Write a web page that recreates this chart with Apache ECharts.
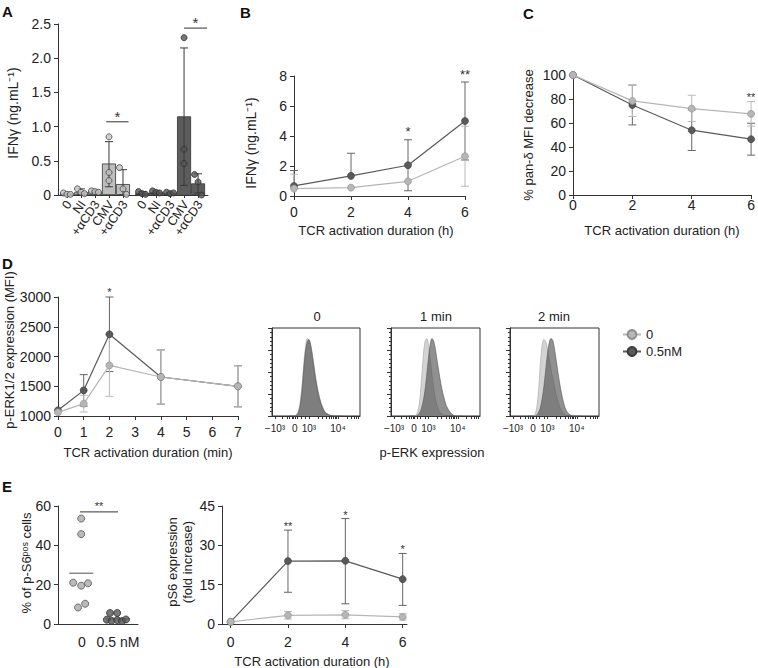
<!DOCTYPE html>
<html><head><meta charset="utf-8">
<script src="https://cdn.jsdelivr.net/npm/echarts@6/dist/echarts.min.js"></script>
<style>html,body{margin:0;padding:0;background:#fff}#c{width:758px;height:668px}</style>
</head><body><div id="c"></div>
<script>
// ================= DATA =================
// Panel A
const A_labels = ['0','NI','+αCD3','CMV','+αCD3','0','NI','+αCD3','CMV','+αCD3'];
const A_means  = [0.02,0.04,0.05,0.46,0.16, 0.03,0.04,0.03,1.15,0.17];
const A_errLow = [0.01,0.01,0.03,0.12,0.00, 0.01,0.02,0.02,0.14,0.03];
const A_errHigh= [0.03,0.09,0.07,0.78,0.37, 0.05,0.06,0.04,2.15,0.31];
const A_points = [[0.03,0.01,0.01],[0.09,0.04,0.02],[0.06,0.05,0.04],[0.85,0.33,0.21],[0.40,0.09,0.01],
                  [0.05,0.02,0.01],[0.06,0.04,0.03],[0.04,0.02,0.03],[2.30,0.67,0.46],[0.30,0.19,0.00]];
const A_sig = [[2.8,4.4,1.07,'*'],[8.36,10.0,2.44,'*']];

// Panel B
const hours = [0,2,4,6];
const B_light = [0.49,0.56,0.98,2.65];
const B_lightErr = [[0.49,1.45],[0.56,0.56],[0.98,2.16],[0.65,4.65]];
const B_dark = [0.67,1.34,2.05,5.0];
const B_darkErr = [[0.67,1.7],[1.34,2.85],[0.35,3.75],[2.4,7.6]];
const B_stars = [[4,4.5,'*'],[6,8.3,'**']];

// Panel C
const C_light = [100,78.4,72,67.6];
const C_lightErr = [[100,100],[65.4,91.4],[61.2,83.1],[57.4,77.8]];
const C_dark = [100,75,54,46.5];
const C_darkErr = [[100,100],[58.4,91.6],[37.1,70.9],[33.2,59.8]];
const C_stars = [[6,84,'**']];

// Panel D
const minutes = [0,1,2,4,7];
const D_light = [1062,1207,1851,1655,1499];
const D_lightErr = [[1062,1062],[1067,1347],[1330,2372],[1200,2110],[1154,1844]];
const D_dark = [1095,1431,2373,1655,1499];
const D_darkErr = [[1095,1095],[1167,1695],[1746,3000],[1200,2110],[1154,1844]];
const D_stars = [[2,3134,'*']];

// Histograms (p-ERK), relative counts on a common bin grid
const histBins = [20,22,24,26,28,30,32,34,36,38,40,42,44,46,48,50,52,54,56,58,60,62,64,66,68,70,72,74,76,78,80];
const H1_light = [0,0,0,0,2,6,16,34,58,78,88,86,77,64,50,37,26,18,12,7,4,2.5,1.5,0.6,0,0,0,0,0,0,0];
const H1_dark  = [0,0,0,0,1,4,12,28,52,73,84,87,81,69,55,41,30,21,14,9,5,3,1.8,1,0.4,0,0,0,0,0,0];
const H2_light = [0,0,0,0,1,5,15,38,65,84,88,82,66,47,31,19,11,6,3,1.5,0.5,0,0,0,0,0,0,0,0,0,0];
const H2_dark  = [0,0,0,0,0,1,3,8,16,28,45,65,81,88,85,75,62,49,37,27,19,12,8,5,2.5,1,0,0,0,0,0];
const H3_light = [0,0,0,0,2,9,28,58,80,87,85,77,65,53,43,33,24,16,10,6,3,1,0,0,0,0,0,0,0,0,0];
const H3_dark  = [0,0,0,0,0,1,4,9,19,33,51,70,83,88,86,76,63,49,36,25,16,9,5,2.5,1,0,0,0,0,0,0];
const hist_titles = ['0','1 min','2 min'];
const hist_labels = ['−10³','0','10³','10⁴'];

// Panel E left
const E1_labels = ['0','0.5 nM'];
const E1_ctrl = [53.6,45.7,21.0,19.5,20.7,8.4,10.3];
const E1_treated = [5.6,5.6,2.2,1.6,2.0,1.5,2.3];
const E1_means = [25.8,2.6];
const E1_sig = [[0.275,0.75,57,'**']];

// Panel E right
const E2_light = [0.8,3.3,3.5,2.7];
const E2_lightErr = [[0.8,0.8],[1.9,4.8],[2.0,5.1],[1.5,3.9]];
const E2_dark = [0.8,24.0,24.1,17.1];
const E2_darkErr = [[0.8,0.8],[12.1,35.8],[7.7,40.2],[7.1,26.9]];
const E2_stars = [[2,38.5,'**'],[4,42.7,'*'],[6,29.4,'*']];

// ================= LAYOUT / STYLE =================
const F = "'Liberation Sans', Arial, Helvetica, sans-serif";
const AX = '#333';
const LIGHT='#b6b6b6', LIGHT_B='#8e8e8e', DARK='#5a5a5a', DARK_B='#3a3a3a';
const LIGHT_ERR='#bababa', DARK_ERR='#666';
const A_pos = [0,1,2,3,4,5.36,6.36,7.36,8.36,9.36];
const A_jit = [-0.25,0,0.25];
const E1_pos = [0.3,0.75];
const E1_ctrlX = [0.29,0.29,0.19,0.29,0.375,0.25,0.34];
const E1_trtX = [0.65,0.74,0.61,0.67,0.74,0.80,0.85];
const histLabelPos = [3.4,26,42,75];
const histTickPos = [3.4,12,17,20,22.5,24.5,26,29,33,38,42,52,57,62,65,67.5,69.5,71.5,73.5,75,85,90,93.5,96,98];

function merge(a,b){ const o = Array.isArray(a)?a.slice():Object.assign({},a);
  for (const k in b){ if (b[k] && typeof b[k]==='object' && !Array.isArray(b[k]) && typeof a[k]==='object' && a[k]) o[k]=merge(a[k],b[k]); else o[k]=b[k]; }
  return o; }
function ax(gi, extra){
  return merge({type:'value', gridIndex:gi,
    axisLine:{show:true,onZero:false,lineStyle:{color:AX,width:1}},
    axisTick:{show:true,length:4,lineStyle:{color:AX,width:1}},
    splitLine:{show:false},
    axisLabel:{color:'#222',fontSize:14,fontFamily:F,margin:7,showMinLabel:true,showMaxLabel:true,hideOverlap:false,
      formatter:v=>String(v)}}, extra||{});
}
function nearest(arr,v){ let bi=0,bd=1e9; arr.forEach((a,i)=>{const d=Math.abs(a-v); if(d<bd){bd=d;bi=i;}}); return bi; }

function errSeries(gi, xs, errs, means, color, z){
  return {type:'custom', xAxisIndex:gi, yAxisIndex:gi, z:z||2, silent:true, clip:false,
    data: xs.map((x,i)=>[x, errs[i][0], errs[i][1], means[i]]),
    renderItem:(p,api)=>{
      const x=api.value(0), lo=api.value(1), hi=api.value(2), m=api.value(3);
      const a=api.coord([x,lo]), b=api.coord([x,hi]); const w=4;
      const st={stroke:color,lineWidth:1};
      const ch=[{type:'line',shape:{x1:a[0],y1:a[1],x2:b[0],y2:b[1]},style:st}];
      if (hi>m) ch.push({type:'line',shape:{x1:b[0]-w,y1:b[1],x2:b[0]+w,y2:b[1]},style:st});
      if (lo<m) ch.push({type:'line',shape:{x1:a[0]-w,y1:a[1],x2:a[0]+w,y2:a[1]},style:st});
      return {type:'group',children:ch};
    }};
}
function lineSeries(gi, name, xs, ys, color, border, z){
  return {type:'line', name, xAxisIndex:gi, yAxisIndex:gi, z:z, data: xs.map((x,i)=>[x,ys[i]]),
    symbol:'circle', symbolSize:7, lineStyle:{color,width:1.2},
    itemStyle:{color,borderColor:border,borderWidth:0.6}, emphasis:{disabled:true}};
}
function starSeries(gi, arr, fs){
  return {type:'custom', xAxisIndex:gi, yAxisIndex:gi, z:6, silent:true, clip:false,
    data: arr.map(d=>[d[0],d[1]]),
    renderItem:(p,api)=>{ const d=arr[p.dataIndex]; const c=api.coord([d[0],d[1]]);
      return {type:'text', x:c[0], y:c[1]+0.225*fs,
        style:{text:d[2],fill:'#333',fontSize:fs,fontFamily:F,align:'center',verticalAlign:'middle'}}; }};
}
function sigSeries(gi, arr, fs, gap){
  return {type:'custom', xAxisIndex:gi, yAxisIndex:gi, z:6, silent:true, clip:false,
    data: arr.map(d=>[d[0],d[2]]),
    renderItem:(p,api)=>{ const d=arr[p.dataIndex]; const a=api.coord([d[0],d[2]]), b=api.coord([d[1],d[2]]);
      return {type:'group',children:[
        {type:'line',shape:{x1:a[0],y1:a[1],x2:b[0],y2:b[1]},style:{stroke:'#333',lineWidth:1}},
        {type:'text',x:(a[0]+b[0])/2,y:a[1]-gap+0.225*fs,
          style:{text:d[3],fill:'#333',fontSize:fs,fontFamily:F,align:'center',verticalAlign:'middle'}}]}; }};
}
function hlineSeries(gi, segs, color, width){
  return {type:'custom', xAxisIndex:gi, yAxisIndex:gi, z:4, silent:true, clip:false,
    data: segs.map(s=>[s[0],s[2]]),
    renderItem:(p,api)=>{ const s=segs[p.dataIndex]; const a=api.coord([s[0],s[2]]), b=api.coord([s[1],s[2]]);
      return {type:'line',shape:{x1:a[0],y1:a[1],x2:b[0],y2:b[1]},style:{stroke:color,lineWidth:width}}; }};
}
function histSeries(gi, ys, fill, stroke, z){
  return {type:'line', xAxisIndex:gi, yAxisIndex:gi, z:z, data: histBins.map((x,i)=>[x,ys[i]]),
    symbol:'none', smooth:0.35, lineStyle:{color:stroke,width:0.6}, areaStyle:{color:fill,opacity:1},
    emphasis:{disabled:true}, silent:true};
}
// rotated category labels for panel A, placed through the x scale
function rotLabelSeries(gi, pos, labels, fs, gap){
  return {type:'custom', xAxisIndex:gi, yAxisIndex:gi, z:6, silent:true, clip:false,
    data: pos.map(x=>[x,0]),
    renderItem:(p,api)=>{ const c=api.coord([api.value(0),0]);
      return {type:'text', x:c[0]+2, y:c[1]+gap, rotation:55*Math.PI/180,
        style:{text:labels[p.dataIndex],fill:'#222',fontSize:fs,fontFamily:F,align:'right',verticalAlign:'middle'}}; }};
}

const boxGrid = {show:true, borderColor:AX, borderWidth:1, backgroundColor:'transparent'};
const grids = [
  {left:58, top:24, width:150, height:171},
  {left:294, top:76, width:171, height:120},
  {left:573, top:75, width:180, height:120},
  {left:58, top:297, width:180, height:119},
  Object.assign({left:272, top:328, width:88, height:88}, boxGrid),
  Object.assign({left:391, top:328, width:89, height:88}, boxGrid),
  Object.assign({left:510, top:328, width:89, height:88}, boxGrid),
  {left:58, top:506, width:80, height:118},
  {left:222, top:506, width:185, height:118}
];

const histX = gi => ax(gi,{min:0,max:100,
  axisTick:{customValues:histTickPos,length:3},
  axisLabel:{customValues:histLabelPos,fontSize:10,margin:7,formatter:v=>hist_labels[nearest(histLabelPos,v)]}});
const histY = gi => ax(gi,{min:0,max:100,interval:25,axisLabel:{show:false},axisTick:{length:4},
  minorTick:{show:true,splitNumber:5,length:2,lineStyle:{color:AX}}});

const xAxes = [
  ax(0,{min:-0.64,max:10.07,axisTick:{customValues:A_pos,length:3},axisLabel:{show:false}}),
  ax(1,{min:0,max:6,interval:2,axisLabel:{margin:9}}),
  ax(2,{min:0,max:6,interval:2,axisLabel:{margin:3}}),
  ax(3,{min:0,max:7,interval:1,axisLabel:{margin:9}}),
  histX(4), histX(5), histX(6),
  ax(7,{min:0,max:1,axisTick:{show:false},
        axisLabel:{customValues:E1_pos,margin:11,formatter:v=>E1_labels[nearest(E1_pos,v)]}}),
  ax(8,{min:-0.3,max:6.15,axisTick:{customValues:hours},axisLabel:{customValues:hours,margin:11}})
];
const yAxes = [
  ax(0,{min:0,max:2.5,interval:0.5,axisLabel:{formatter:v=>v===0?'0':v.toFixed(1)}}),
  ax(1,{min:0,max:8,interval:2}),
  ax(2,{min:0,max:100,interval:20}),
  ax(3,{min:1000,max:3000,interval:500}),
  histY(4), histY(5), histY(6),
  ax(7,{min:0,max:60,interval:20}),
  ax(8,{min:0,max:45,interval:15})
];

const series = [];
// ---- A ----
series.push({type:'bar', xAxisIndex:0, yAxisIndex:0, barWidth:14, z:2,
  data: A_pos.map((x,i)=>({value:[x,A_means[i]], itemStyle:{color: i<5?'#bdbdbd':'#5c5c5c'}})),
  itemStyle:{borderColor:'#333',borderWidth:0.8}, emphasis:{disabled:true}, silent:true});
series.push(errSeries(0, A_pos, A_pos.map((x,i)=>[A_errLow[i],A_errHigh[i]]), A_means, '#3a3a3a', 3));
series.push({type:'scatter', xAxisIndex:0, yAxisIndex:0, z:4, symbolSize:6, silent:true,
  data: A_points.flatMap((pts,i)=>pts.map((v,j)=>({value:[A_pos[i]+(i===3||i===8?0:A_jit[j]),v],
    itemStyle:{color: i<5?'#c4c4c4':'#555', borderColor: i<5?'#444':'#2e2e2e', borderWidth:1}})))});
series.push(sigSeries(0, A_sig, 15, 9));
series.push(rotLabelSeries(0, A_pos, A_labels, 12.5, 7));
// ---- B ----
series.push(errSeries(1, hours, B_darkErr, B_dark, DARK_ERR, 1));
series.push(errSeries(1, hours, B_lightErr, B_light, LIGHT_ERR, 1));
series.push(lineSeries(1,'0.5nM',hours,B_dark,DARK,DARK_B,2));
series.push(lineSeries(1,'0',hours,B_light,LIGHT,LIGHT_B,3));
series.push(starSeries(1,B_stars,13));
// ---- C ----
series.push(errSeries(2, hours, C_darkErr, C_dark, DARK_ERR, 1));
series.push(errSeries(2, hours, C_lightErr, C_light, LIGHT_ERR, 1));
series.push(lineSeries(2,'0.5nM',hours,C_dark,DARK,DARK_B,2));
series.push(lineSeries(2,'0',hours,C_light,LIGHT,LIGHT_B,3));
series.push(starSeries(2,C_stars,11));
// ---- D ----
series.push(errSeries(3, minutes, D_darkErr, D_dark, DARK_ERR, 1));
series.push(errSeries(3, minutes, D_lightErr, D_light, LIGHT_ERR, 1));
series.push(lineSeries(3,'0.5nM',minutes,D_dark,DARK,DARK_B,2));
series.push(lineSeries(3,'0',minutes,D_light,LIGHT,LIGHT_B,3));
series.push(starSeries(3,D_stars,11));
// ---- Histograms ----
const DARK_FILL='rgba(70,70,70,0.6)', LIGHT_FILL='#d3d3d3';
[[4,H1_light,H1_dark],[5,H2_light,H2_dark],[6,H3_light,H3_dark]].forEach(h=>{
  series.push(histSeries(h[0],h[1],LIGHT_FILL,'#a5a5a5',1));
  series.push(histSeries(h[0],h[2],DARK_FILL,'#555',2));
});
// ---- E left ----
series.push(hlineSeries(7, [[0.14,0.44,E1_means[0]],[0.6,0.9,E1_means[1]]], '#8a8a8a', 1.5));
series.push({type:'scatter', xAxisIndex:7, yAxisIndex:7, z:5, symbolSize:7, silent:true,
  data:E1_ctrl.map((v,i)=>[E1_ctrlX[i],v]), itemStyle:{color:'#a9a9a9',borderColor:'#555',borderWidth:1}});
series.push({type:'scatter', xAxisIndex:7, yAxisIndex:7, z:5, symbolSize:7, silent:true,
  data:E1_treated.map((v,i)=>[E1_trtX[i],v]), itemStyle:{color:'#555',borderColor:'#333',borderWidth:1}});
series.push(sigSeries(7, E1_sig, 11, 8.5));
// ---- E right ----
series.push(errSeries(8, hours, E2_darkErr, E2_dark, DARK_ERR, 1));
series.push(errSeries(8, hours, E2_lightErr, E2_light, LIGHT_ERR, 1));
series.push(lineSeries(8,'0.5nM',hours,E2_dark,DARK,DARK_B,2));
series.push(lineSeries(8,'0',hours,E2_light,LIGHT,LIGHT_B,3));
series.push(starSeries(8,E2_stars,11));

// ---- texts ----
function T(x,y,text,opt){ opt=opt||{};
  return {type:'text', x, y, rotation:opt.rot||0, silent:true, z:10,
    style:{text, fill:opt.fill||'#222', fontSize:opt.fs||13, fontFamily:F, fontWeight:opt.fw||'normal',
      align:opt.align||'center', verticalAlign:opt.va||'middle', lineHeight:opt.lh}}; }
const R = Math.PI/2;
const graphic = [
  T(2,4,'A',{fs:15,fw:'bold',align:'left',va:'top',fill:'#111'}),
  T(240,5,'B',{fs:15,fw:'bold',align:'left',va:'top',fill:'#111'}),
  T(523,6,'C',{fs:15,fw:'bold',align:'left',va:'top',fill:'#111'}),
  T(2,256,'D',{fs:15,fw:'bold',align:'left',va:'top',fill:'#111'}),
  T(2,479,'E',{fs:15,fw:'bold',align:'left',va:'top',fill:'#111'}),
  T(13,113,'IFNγ (ng.mL⁻¹)',{rot:R,fs:14}),
  T(251,143,'IFNγ (ng.mL⁻¹)',{rot:R,fs:14}),
  T(528,135,'% pan-δ MFI decrease',{rot:R}),
  T(9,350,'p-ERK1/2 expression (MFI)',{rot:R}),
  T(26,563,'% of p-S6ᵖᵒˢ cells',{rot:R}),
  T(180,562,'pS6 expression\n(fold increase)',{rot:R,lh:15}),
  T(376,230,'TCR activation duration (h)'),
  T(662,230,'TCR activation duration (h)'),
  T(148,452,'TCR activation duration (min)'),
  T(432,452,'p-ERK expression'),
  T(312,661,'TCR activation duration (h)'),
  T(317,316,hist_titles[0]),
  T(436,316,hist_titles[1]),
  T(554,316,hist_titles[2])
];

const chart = echarts.init(document.getElementById('c'), null, {renderer:'svg'});
chart.setOption({
  animation:false, backgroundColor:'#fff',
  grid: grids, xAxis: xAxes, yAxis: yAxes, series, graphic,
  legend:{data:['0','0.5nM'], orient:'vertical', left:617, top:323, itemWidth:18, itemHeight:11, itemGap:4,
    selectedMode:false, textStyle:{fontSize:13,color:'#222',fontFamily:F}}
});
</script></body></html>
